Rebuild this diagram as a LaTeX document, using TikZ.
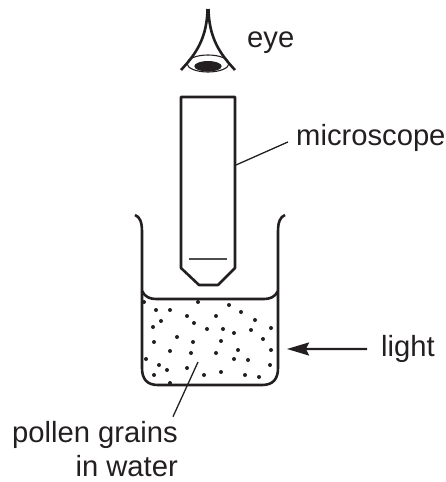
\documentclass[tikz,border=0pt]{standalone}
\usepackage{fontspec}
\setmainfont{Liberation Sans}
\usetikzlibrary{arrows.meta}
\definecolor{InkBlack}{HTML}{231F20}
\tikzset{
  lbl/.style={inner sep=0pt,font=\fontsize{29.2}{34}\selectfont\color{InkBlack}},
  glass/.style={line width=2.6pt,color=InkBlack,line join=round},
  lead/.style={line width=1.3pt,color=InkBlack},
  arr/.style={-{Stealth[length=22pt,width=13pt,inset=3pt]},line width=2.2pt,color=InkBlack},
  grain/.style={circle,fill=InkBlack,inner sep=0pt,minimum size=4pt},
}
\begin{document}
\begin{tikzpicture}[x=1pt,y=-1pt]
  \useasboundingbox (0,0) rectangle (446,482);

  % eye
  \draw[glass] (181,70) .. controls (196,54) and (207,38) .. (207.5,9);
  \draw[glass] (235,70) .. controls (220,54) and (209,38) .. (208.5,9);
  \draw[line width=1.1pt,color=InkBlack] (208,63.5) ellipse (21 and 8.5);
  \fill[InkBlack] (208,66.3) ellipse (13.7 and 5.3);
  \node[lbl,anchor=base west] (eyelbl) at (247,47) {eye};

  % microscope
  \draw[glass] (181,97) -- (235,97) -- (235,268) -- (218,285) -- (199,285)
    -- (181,268) -- cycle;
  \draw[line width=1.2pt,color=InkBlack!80] (189,259) -- (227,259);
  \node[lbl,anchor=base west] (scopelbl) at (296,145) {microscope};
  \coordinate (scopeend) at (236,165);
  \draw[lead] (scopelbl.west) ++(-8,4.5) -- (scopeend);

  % beaker
  \draw[glass] (135,215) .. controls (140,217) and (142,222) .. (142,232)
    -- (142,368) .. controls (142,379) and (147,385) .. (158,385)
    -- (262,385) .. controls (273,385) and (278,379) .. (278,368)
    -- (278,232) .. controls (278,222) and (280,217) .. (285,215);
  \draw[glass] (142,291) .. controls (145,297) and (150,299) .. (156,299)
    -- (264,299) .. controls (270,299) and (275,297) .. (278,291);

  % pollen
  \foreach \px/\py in {144/302,156/310,170/310,198/302,229/305,241/312,
    187/316,216/316,255/320,161/321,194/323,153/327,207/329,223/329,234/333,
    251/330,271/328,177/337,154/342,193/342,221/341,263/339,170/351,191/353,
    216/353,238/350,271/350,146/359,234/359,248/360,159/365,167/370,187/368,
    270/365,154/375,204/375,221/372,245/375,259/377,170/383}
    \node[grain] at (\px,\py) {};

  % pollen label
  \node[lbl,anchor=base east] (pollenlbl) at (178,442) {pollen grains};
  \node[lbl,anchor=base east] (waterlbl) at (178,476) {in water};
  \coordinate (pollenend) at (198,362);
  \draw[lead] (pollenlbl.north east) ++(-5,-4) -- (pollenend);

  % light
  \node[lbl,anchor=base west] (lightlbl) at (381,356) {light};
  \coordinate (lightend) at (287,349);
  \draw[arr] (lightlbl.west) ++(-14,0.5) -- (lightend);
\end{tikzpicture}
\end{document}
